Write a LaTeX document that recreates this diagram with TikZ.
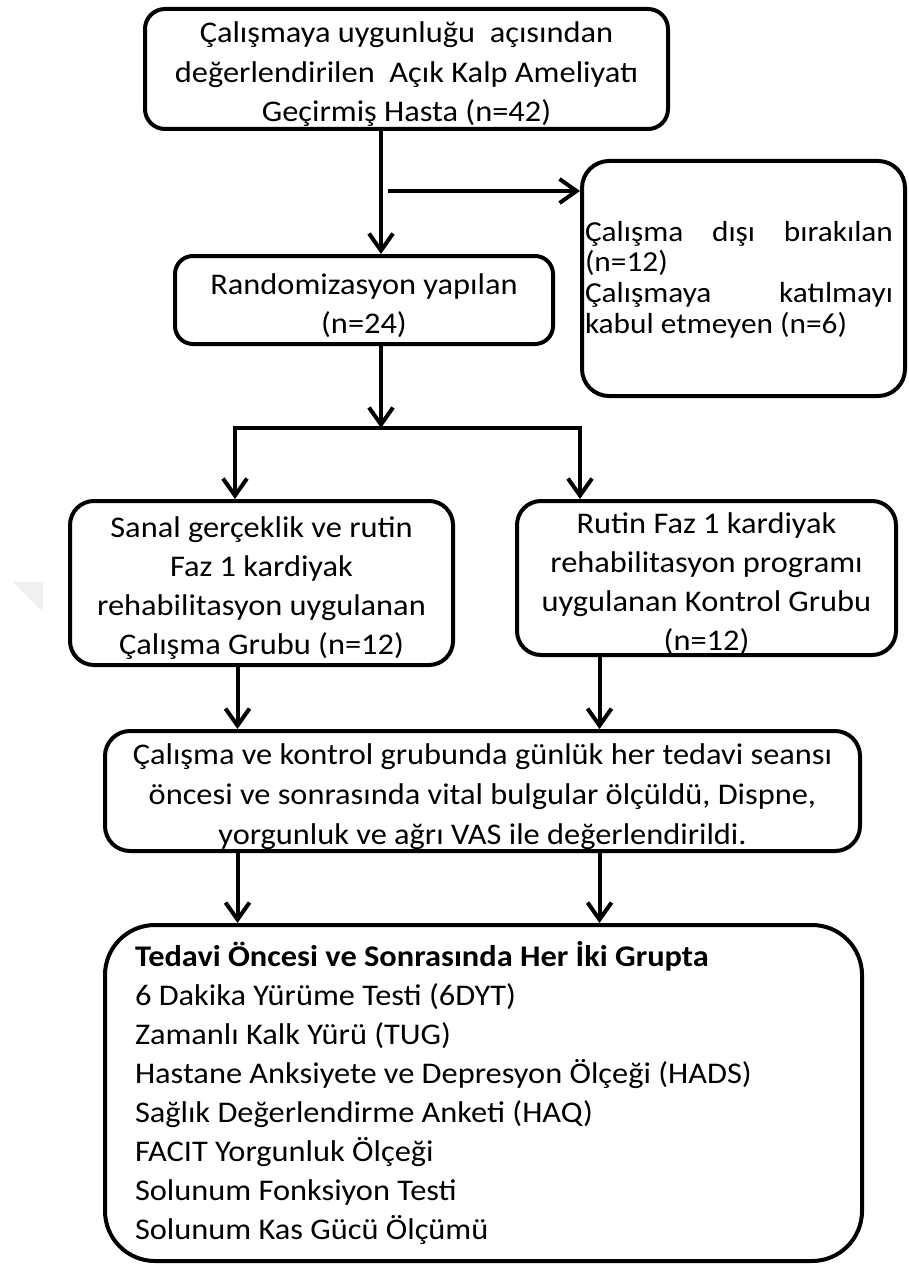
\documentclass[tikz,border=0pt]{standalone}
\usepackage{fontspec}
\setmainfont[FakeStretch=1.08]{Carlito}
\usetikzlibrary{arrows.meta}
\newcommand{\lowr}{\rule{0pt}{32pt}}

\begin{document}
\begin{tikzpicture}[x=1pt,y=-1pt,
  box/.style={draw=black, line width=4pt, rounded corners=#1, inner sep=0pt,
    align=center, font=\fontsize{30}{39}\selectfont},
  conn/.style={line width=4pt, draw=black},
  arr/.style={conn, -{Straight Barb[length=17pt,width=24pt]}}]
\useasboundingbox (0,0) rectangle (909,1265);
\fill[white] (0,0) rectangle (909,1265);
% faint watermark
\fill[black!6] (13,582) -- (43,582) -- (43,612) -- cycle;

\node[box=20pt, minimum width=523pt, minimum height=120pt, font=\fontsize{30}{39.5}\selectfont] (top) at (406.5,69)
  {\lowr Çalışmaya uygunluğu\ \ açısından\\ değerlendirilen\ \ Açık Kalp Ameliyatı\\ Geçirmiş Hasta (n=42)};
\node[box=18pt, minimum width=378pt, minimum height=88pt] (rand) at (364,300)
  {\lowr Randomizasyon yapılan\\(n=24)};
\node[box=27pt, minimum width=323pt, minimum height=235pt] (excl) at (743.5,278.5) {};
\node[inner sep=0pt] (excltext) at (739,279.5)
  {\parbox{308pt}{\fontsize{29}{30.7}\selectfont Çalışma\hfill dışı\hfill bırakılan\\ (n=12)\\ Çalışmaya\hfill katılmayı\\ kabul etmeyen (n=6)}};
\node[box=24pt, minimum width=383pt, minimum height=164pt] (grpL) at (261.5,583)
  {\lowr Sanal gerçeklik ve rutin\\Faz 1 kardiyak\\rehabilitasyon uygulanan\\Çalışma Grubu (n=12)};
\node[box=24pt, minimum width=379pt, minimum height=154pt] (grpR) at (706.5,578)
  {\lowr Rutin Faz 1 kardiyak\\rehabilitasyon programı\\uygulanan Kontrol Grubu\\(n=12)};
\node[box=25pt, minimum width=755pt, minimum height=120pt, font=\fontsize{30}{40}\selectfont] (mid) at (482.5,791)
  {\lowr Çalışma ve kontrol grubunda günlük her tedavi seansı\\öncesi ve sonrasında vital bulgular ölçüldü, Dispne,\\yorgunluk ve ağrı VAS ile değerlendirildi.};
\node[box=50pt, minimum width=757pt, minimum height=336pt, text width=697pt, align=flush left] (bot) at (483.5,1093)
  {\textbf{Tedavi Öncesi ve Sonrasında Her İki Grupta}\\
   6 Dakika Yürüme Testi (6DYT)\\
   Zamanlı Kalk Yürü (TUG)\\
   Hastane Anksiyete ve Depresyon Ölçeği (HADS)\\
   Sağlık Değerlendirme Anketi (HAQ)\\
   FACIT Yorgunluk Ölçeği\\
   Solunum Fonksiyon Testi\\
   Solunum Kas Gücü Ölçümü};

\coordinate (trunk) at (381,0);
\coordinate (side) at (388,191);
\coordinate (split) at (381,428);
\coordinate (bl) at (235,428);
\coordinate (br) at (580,428);
\coordinate (cl) at (237.5,0);
\coordinate (cr) at (599.5,0);

\draw[arr] (top.south -| trunk) -- (rand.north -| trunk);
\draw[arr] (side) -- (side -| excl.west);
\draw[arr] (rand.south -| trunk) -- (split);
\draw[conn, line cap=rect] (bl) -- (br);
\draw[arr] (bl) -- (bl |- grpL.north);
\draw[arr] (br) -- (br |- grpR.north);
\draw[arr] (grpL.south -| cl) -- (mid.north -| cl);
\draw[arr] (grpR.south -| cr) -- (mid.north -| cr);
\draw[arr] (mid.south -| cl) -- (bot.north -| cl);
\draw[arr] (mid.south -| cr) -- (bot.north -| cr);
\end{tikzpicture}
\end{document}
